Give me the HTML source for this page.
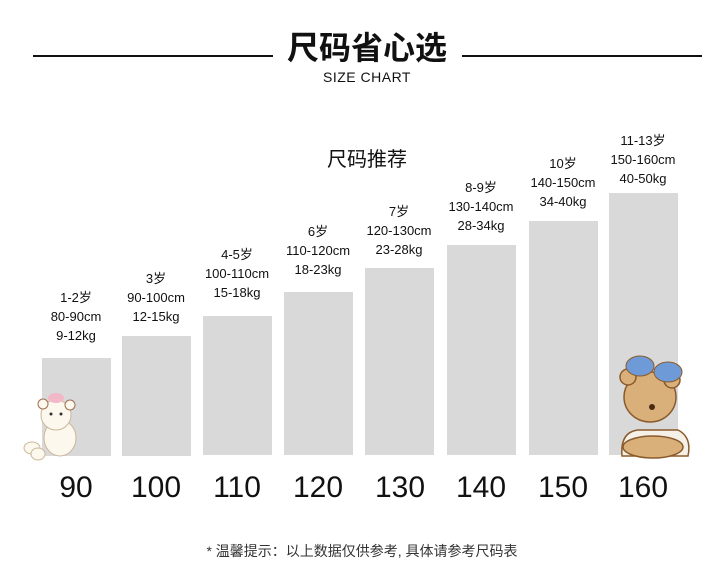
<!DOCTYPE html>
<html><head><meta charset="utf-8"><style>
body{margin:0;width:724px;height:580px;background:#fff;position:relative;overflow:hidden;font-family:"Liberation Sans","Noto Sans CJK SC",sans-serif;color:#111}
.a{position:absolute}
.bar{position:absolute;background:#d9d9d9;width:69px}
.lbl{position:absolute;width:120px;text-align:center;font-size:13px;line-height:19px;color:#111}
.num{position:absolute;width:100px;text-align:center;font-size:30px;top:471px;font-weight:300;color:#111}
</style></head><body>
<div class="a" style="left:33px;top:55px;width:240px;height:2px;background:#111"></div>
<div class="a" style="left:462px;top:55px;width:240px;height:2px;background:#111"></div>
<div class="a" style="left:272px;top:26px;width:190px;text-align:center;font-size:32px;font-weight:bold;line-height:40px;font-family:'Noto Sans CJK SC',sans-serif">尺码省心选</div>
<div class="a" style="left:300px;top:69px;width:134px;text-align:center;font-size:14px;letter-spacing:0.5px">SIZE CHART</div>
<div class="a" style="left:300px;top:144px;width:134px;text-align:center;font-size:20px;line-height:28px;font-family:'Noto Sans CJK SC',sans-serif">尺码推荐</div>

<div class="bar" style="left:42px;top:358px;height:98px"></div>
<div class="bar" style="left:122px;top:336px;height:120px"></div>
<div class="bar" style="left:203px;top:316px;height:139px"></div>
<div class="bar" style="left:284px;top:292px;height:163px"></div>
<div class="bar" style="left:365px;top:268px;height:187px"></div>
<div class="bar" style="left:447px;top:245px;height:210px"></div>
<div class="bar" style="left:529px;top:221px;height:234px"></div>
<div class="bar" style="left:609px;top:193px;height:262px"></div>

<div class="lbl" style="left:16px;top:288px">1-2岁<br>80-90cm<br>9-12kg</div>
<div class="lbl" style="left:96px;top:269px">3岁<br>90-100cm<br>12-15kg</div>
<div class="lbl" style="left:177px;top:245px">4-5岁<br>100-110cm<br>15-18kg</div>
<div class="lbl" style="left:258px;top:222px">6岁<br>110-120cm<br>18-23kg</div>
<div class="lbl" style="left:339px;top:202px">7岁<br>120-130cm<br>23-28kg</div>
<div class="lbl" style="left:421px;top:178px">8-9岁<br>130-140cm<br>28-34kg</div>
<div class="lbl" style="left:503px;top:154px">10岁<br>140-150cm<br>34-40kg</div>
<div class="lbl" style="left:583px;top:131px">11-13岁<br>150-160cm<br>40-50kg</div>

<div class="num" style="left:26px">90</div>
<div class="num" style="left:106px">100</div>
<div class="num" style="left:187px">110</div>
<div class="num" style="left:268px">120</div>
<div class="num" style="left:350px">130</div>
<div class="num" style="left:431px">140</div>
<div class="num" style="left:513px">150</div>
<div class="num" style="left:593px">160</div>

<svg class="a" style="left:20px;top:390px" width="70" height="75">
<ellipse cx="40" cy="48" rx="16" ry="18" fill="#fdf8ee" stroke="#c9b79a"/>
<circle cx="36" cy="25" r="15" fill="#fdf8ee" stroke="#c9b79a"/>
<circle cx="23" cy="14" r="5" fill="#fdf8ee" stroke="#a07050"/>
<circle cx="50" cy="15" r="5" fill="#fdf8ee" stroke="#a07050"/>
<ellipse cx="36" cy="8" rx="8" ry="5" fill="#f3b8c8"/>
<ellipse cx="12" cy="58" rx="8" ry="6" fill="#fdf8ee" stroke="#c9b79a"/>
<ellipse cx="18" cy="64" rx="7" ry="6" fill="#fdf8ee" stroke="#c9b79a"/>
<circle cx="31" cy="24" r="1.5" fill="#333"/><circle cx="41" cy="24" r="1.5" fill="#333"/>
</svg>
<svg class="a" style="left:608px;top:352px" width="90" height="115">
<path d="M14 104 Q12 80 30 78 L70 78 Q84 85 80 104 Z" fill="#f5f0e8" stroke="#8b5a2b" stroke-width="1.5"/>
<ellipse cx="42" cy="45" rx="26" ry="25" fill="#d9b07a" stroke="#8b5a2b" stroke-width="1.5"/>
<circle cx="20" cy="25" r="8" fill="#d9b07a" stroke="#8b5a2b" stroke-width="1.5"/>
<circle cx="64" cy="28" r="8" fill="#d9b07a" stroke="#8b5a2b" stroke-width="1.5"/>
<ellipse cx="32" cy="14" rx="14" ry="10" fill="#6e9bd8" stroke="#8b5a2b"/>
<ellipse cx="60" cy="20" rx="14" ry="10" fill="#6e9bd8" stroke="#8b5a2b"/>
<ellipse cx="45" cy="95" rx="30" ry="11" fill="#d9b07a" stroke="#8b5a2b" stroke-width="1.5"/>
<circle cx="44" cy="55" r="3" fill="#4a2a10"/>
</svg>

<div class="a" style="left:170px;top:541px;width:384px;text-align:center;font-size:14px;color:#333">* 温馨提示：以上数据仅供参考, 具体请参考尺码表</div>
</body></html>
